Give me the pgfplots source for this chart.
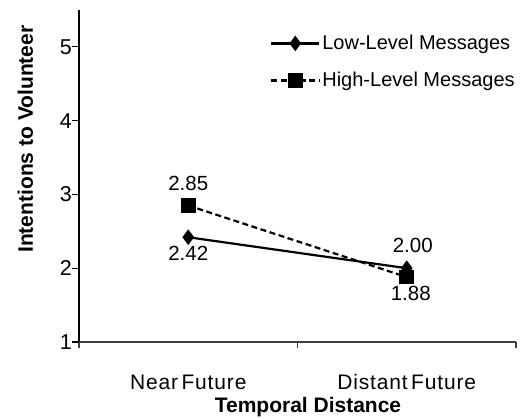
\documentclass[border=0pt]{standalone}
\usepackage{pgfplots}
\pgfplotsset{compat=1.18}
\usepackage{fontspec}
\setmainfont{Liberation Sans}
\newfontfamily\spacedfont[LetterSpace=4]{Liberation Sans}

\begin{document}
\begin{tikzpicture}
% page = 522 x 418, axis box at (0,0)-(437,332)
\useasboundingbox (-79pt,-76pt) rectangle (443pt,342pt);
\begin{axis}[
    at={(0,0)}, anchor=south west,
    scale only axis,
    width=437pt, height=332pt,
    xmin=0, xmax=2,
    ymin=1, ymax=5.5,
    axis x line*=bottom, axis y line*=left,
    x axis line style={black!75, line width=1.3pt},
    y axis line style={black, line width=1.3pt},
    xtick={0.5,1.5},
    xticklabels={Near\,Future, Distant\,Future},
    major x tick style={draw=none},
    minor xtick={0,1,2},
    minor x tick style={black!75, line width=1.2pt},
    minor tick length=6pt,
    ytick={1,2,3,4,5},
    y tick style={black, line width=1.2pt},
    major tick length=7pt,
    tick align=outside,
    /pgf/number format/assume math mode=true,
    tick label style={font=\fontsize{21.5}{24}\selectfont},
    xticklabel style={font=\fontsize{21}{24}\spacedfont, anchor=base, yshift=-40pt},
    yticklabel style={anchor=east, inner sep=0pt},
    xlabel={\textbf{Temporal Distance}},
    ylabel={\textbf{Intentions to Volunteer}},
    label style={font=\fontsize{21}{24}\selectfont},
    xlabel style={at={(axis description cs:0.524,0)}, anchor=base, yshift=-70pt},
    ylabel style={at={(axis description cs:-0.1053,0.611)}, anchor=base, rotate=0},
    clip=false,
    legend style={draw=none, fill=none, at={(0.437,0.93)}, anchor=north west,
        font=\fontsize{20}{24}\selectfont, row sep=17pt,
        inner sep=0pt},
    legend cell align=left,
    legend image code/.code={
        \draw[mark repeat=2, mark phase=2, #1] plot coordinates {(0pt,0pt) (24pt,0pt) (48pt,0pt)};
    },
    label node/.style n args={3}{draw=none, mark=none, forget plot,
        nodes near coords={\pgfmathprintnumber[fixed,fixed zerofill,precision=2]{\pgfplotspointmeta}},
        point meta=y,
        every node near coord/.append style={anchor=#1,
            font=\fontsize{20.5}{24}\selectfont, inner sep=#2, xshift=#3,
            /pgf/number format/assume math mode=true}},
]
\addplot[black, line width=2.2pt, mark=diamond*, mark size=6pt,
    mark options={solid, fill=black}]
    coordinates {(0.5,2.42) (1.5,2.00)};
\addlegendentry{Low-Level Messages}
\addplot[black, line width=2.2pt, dash pattern=on 6pt off 3.5pt, mark=square*, mark size=6.3pt,
    mark options={solid, fill=black}]
    coordinates {(0.5,2.85) (1.5,1.88)};
\addlegendentry{High-Level Messages}
% data labels
\addplot[label node={south}{15pt}{0pt}] coordinates {(0.5,2.85)};
\addplot[label node={south}{15pt}{6pt}] coordinates {(1.5,2.00)};
\addplot[label node={north}{9pt}{0pt}] coordinates {(0.5,2.42)};
\addplot[label node={north}{9pt}{4pt}] coordinates {(1.5,1.88)};
\end{axis}
\end{tikzpicture}
\end{document}
